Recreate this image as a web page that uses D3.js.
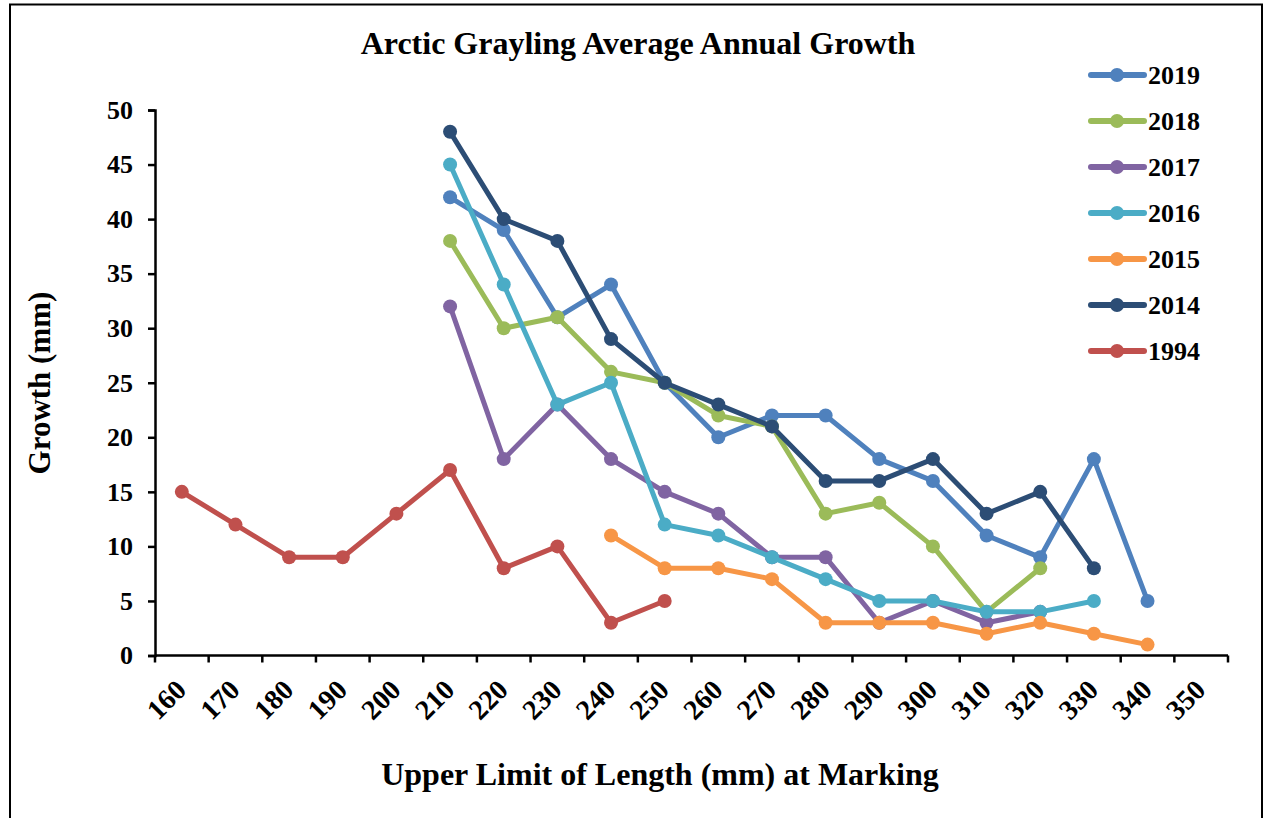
<!DOCTYPE html>
<html>
<head>
<meta charset="utf-8">
<script src="https://cdn.jsdelivr.net/npm/d3@7"></script>
<style>
  html, body { margin: 0; padding: 0; background: #fff; }
  svg { display: block; }
  text { font-family: "Liberation Serif", "Times New Roman", serif; font-weight: bold; fill: #000; }
</style>
</head>
<body>
<svg id="chart" width="1264" height="818"></svg>
<script>
// Length classes (upper limit, mm) on the category axis
const lengthClasses = [160, 170, 180, 190, 200, 210, 220, 230, 240, 250,
                       260, 270, 280, 290, 300, 310, 320, 330, 340, 350];
const yTicks = [0, 5, 10, 15, 20, 25, 30, 35, 40, 45, 50];

// Average annual growth (mm) by year, keyed by length class; null = no fish in class
const growth2019 = [null, null, null, null, null, 42, 39, 31, 34, 25, 20, 22, 22, 18, 16, 11, 9, 18, 5, null];
const growth2018 = [null, null, null, null, null, 38, 30, 31, 26, 25, 22, 21, 13, 14, 10, 4, 8, null, null, null];
const growth2017 = [null, null, null, null, null, 32, 18, 23, 18, 15, 13, 9, 9, 3, 5, 3, 4, null, null, null];
const growth2016 = [null, null, null, null, null, 45, 34, 23, 25, 12, 11, 9, 7, 5, 5, 4, 4, 5, null, null];
const growth2015 = [null, null, null, null, null, null, null, null, 11, 8, 8, 7, 3, 3, 3, 2, 3, 2, 1, null];
const growth2014 = [null, null, null, null, null, 48, 40, 38, 29, 25, 23, 21, 16, 16, 18, 13, 15, 8, null, null];
const growth1994 = [15, 12, 9, 9, 13, 17, 8, 10, 3, 5, null, null, null, null, null, null, null, null, null, null];

const seriesNames = ["2019", "2018", "2017", "2016", "2015", "2014", "1994"];
const seriesValues = [growth2019, growth2018, growth2017, growth2016, growth2015, growth2014, growth1994];
const seriesColors = ["#4F81BD", "#9BBB59", "#8064A2", "#4BACC6", "#F79646", "#2C4D75", "#C0504D"];

const svg = d3.select("#chart");

// Outer chart frame
svg.append("rect")
  .attr("x", 10).attr("y", 4.5)
  .attr("width", 1252).attr("height", 840)
  .attr("fill", "none").attr("stroke", "#000").attr("stroke-width", 2);

const plot = { left: 155, right: 1228, top: 110, bottom: 655.5 };

const x = d3.scaleBand()
  .domain(lengthClasses)
  .range([plot.left, plot.right])
  .paddingInner(0).paddingOuter(0);

const y = d3.scaleLinear()
  .domain([0, 50])
  .range([plot.bottom, plot.top]);

// Y axis
const yAxis = svg.append("g")
  .attr("transform", `translate(${plot.left},0)`)
  .call(d3.axisLeft(y).tickValues(yTicks).tickSize(7).tickPadding(15));
yAxis.select(".domain").attr("stroke", "#000").attr("stroke-width", 2.5);
yAxis.selectAll(".tick line").attr("stroke", "#000").attr("stroke-width", 2.5);
yAxis.selectAll(".tick text")
  .style("font-family", "'Liberation Serif', serif")
  .style("font-weight", "bold")
  .style("font-size", "26px");

// X axis: ticks on band boundaries, labels under band centres
const xAxisG = svg.append("g")
  .attr("transform", `translate(0,${plot.bottom})`);
xAxisG.append("line")
  .attr("x1", plot.left).attr("x2", plot.right)
  .attr("y1", 0).attr("y2", 0)
  .attr("stroke", "#000").attr("stroke-width", 2.5);
const boundaries = lengthClasses.map(d => x(d)).concat([x.range()[1]]);
xAxisG.selectAll("line.tick")
  .data(boundaries)
  .join("line")
  .attr("class", "tick")
  .attr("x1", d => d).attr("x2", d => d)
  .attr("y1", 0).attr("y2", 7)
  .attr("stroke", "#000").attr("stroke-width", 2.5);
xAxisG.selectAll("text.label")
  .data(lengthClasses)
  .join("text")
  .attr("class", "label")
  .attr("text-anchor", "end")
  .attr("transform", d => `translate(${x(d) + x.bandwidth() / 2 + 6},${36}) rotate(-45)`)
  .style("font-size", "28px")
  .text(d => d);

// Series lines and markers, drawn in legend order
const line = d3.line()
  .defined(d => d.v !== null)
  .x(d => x(d.k) + x.bandwidth() / 2)
  .y(d => y(d.v));

seriesNames.forEach((name, i) => {
  const pts = lengthClasses.map((k, j) => ({ k, v: seriesValues[i][j] }));
  const g = svg.append("g").attr("class", "series");
  g.append("path")
    .datum(pts)
    .attr("d", line)
    .attr("fill", "none")
    .attr("stroke", seriesColors[i])
    .attr("stroke-width", 5)
    .attr("stroke-linejoin", "round")
    .attr("stroke-linecap", "round");
  g.selectAll("circle")
    .data(pts.filter(d => d.v !== null))
    .join("circle")
    .attr("cx", d => x(d.k) + x.bandwidth() / 2)
    .attr("cy", d => y(d.v))
    .attr("r", 7)
    .attr("fill", seriesColors[i]);
});

// Legend
const legend = svg.append("g").attr("class", "legend");
seriesNames.forEach((name, i) => {
  const ly = 75 + i * 46;
  legend.append("line")
    .attr("x1", 1091).attr("x2", 1144)
    .attr("y1", ly).attr("y2", ly)
    .attr("stroke", seriesColors[i])
    .attr("stroke-width", 6)
    .attr("stroke-linecap", "round");
  legend.append("circle")
    .attr("cx", 1117).attr("cy", ly).attr("r", 7)
    .attr("fill", seriesColors[i]);
  legend.append("text")
    .attr("x", 1148).attr("y", ly)
    .attr("dy", "0.35em")
    .style("font-size", "26px")
    .text(name);
});

// Titles
svg.append("text")
  .attr("x", 638).attr("y", 54)
  .attr("text-anchor", "middle")
  .style("font-size", "32px")
  .text("Arctic Grayling Average Annual Growth");

svg.append("text")
  .attr("x", 660).attr("y", 785)
  .attr("text-anchor", "middle")
  .style("font-size", "32px")
  .text("Upper Limit of Length (mm) at Marking");

svg.append("text")
  .attr("transform", "translate(50,383) rotate(-90)")
  .attr("text-anchor", "middle")
  .style("font-size", "31px")
  .text("Growth (mm)");
</script>
</body>
</html>
